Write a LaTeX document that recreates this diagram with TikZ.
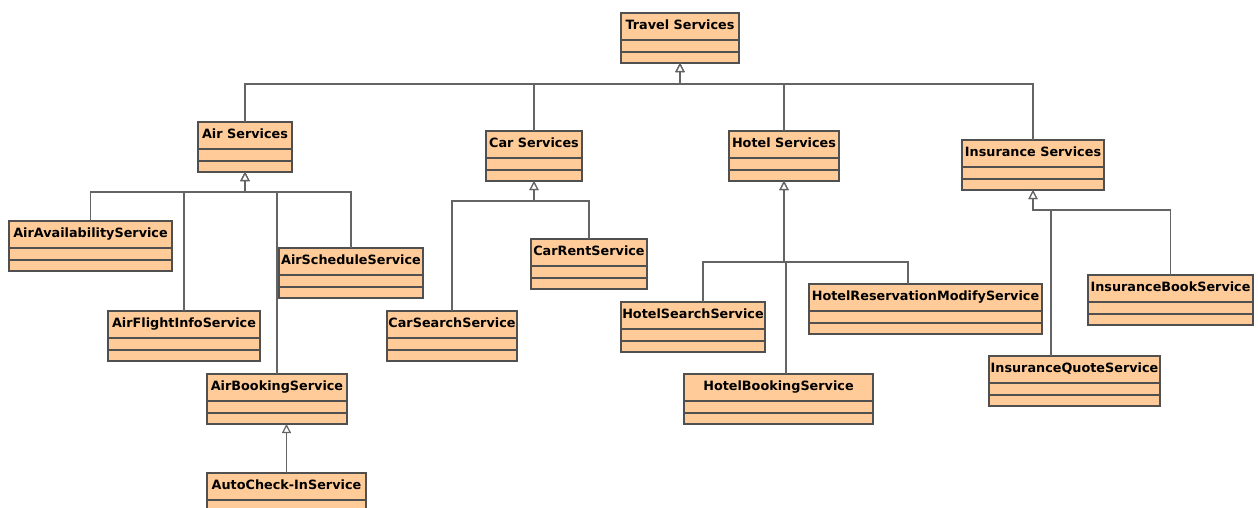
\documentclass[tikz,border=0pt]{standalone}
\usepackage{fontspec}
\setmainfont{DejaVu Sans}
\usetikzlibrary{arrows.meta,calc}
\definecolor{clsfill}{RGB}{255,204,153}
\definecolor{clsdraw}{RGB}{80,80,80}
\definecolor{conn}{RGB}{100,100,100}
\tikzset{
  cls/.style={draw=clsdraw, fill=clsfill, line width=1.3pt, minimum height=50pt, inner sep=0pt, outer sep=0pt},
  lbl/.style={inner sep=0pt, font=\fontsize{12.8}{14}\selectfont\bfseries},
  cmp/.style={draw=clsdraw, line width=1.3pt},
  gen/.style={draw=conn, line width=1.3pt, -{Triangle[length=9pt,width=9pt,fill=white,line width=1.2pt]}}
}
\newcommand{\umlclass}[5]{%
  \node[cls, minimum width=#4pt, anchor=north west] (#1) at (#2,#3) {};
  \node[lbl, anchor=base] (#1-t) at ([yshift=-16pt]#1.north) {#5};
  \draw[cmp] ([yshift=-27pt]#1.north west) -- ([yshift=-27pt]#1.north east);
  \draw[cmp] ([yshift=-39pt]#1.north west) -- ([yshift=-39pt]#1.north east);
}
\begin{document}
\begin{tikzpicture}[x=1pt,y=-1pt]
\useasboundingbox (0,0) rectangle (1258,507);
\clip (0,0) rectangle (1258,507);
\fill[white] (0,0) rectangle (1258,507);
% bars
\coordinate (bT) at (680,84);
\coordinate (bA) at (245,192);
\coordinate (bC) at (534,201);
\coordinate (bH) at (784,262);
\coordinate (bI) at (1033,210);
% classes
\umlclass{travel}{621}{13}{118}{Travel Services}
\umlclass{air}{198}{122}{94}{Air Services}
\umlclass{car}{486}{131}{96}{Car Services}
\umlclass{hotel}{729}{131}{110}{Hotel Services}
\umlclass{ins}{962}{140}{142}{Insurance Services}
\umlclass{aav}{9}{221}{163}{AirAvailabilityService}
\umlclass{asch}{279}{248}{144}{AirScheduleService}
\umlclass{afi}{108}{311}{152}{AirFlightInfoService}
\umlclass{abk}{207}{374}{140}{AirBookingService}
\umlclass{acin}{207}{473}{159}{AutoCheck-InService}
\umlclass{cs}{387}{311}{130}{CarSearchService}
\umlclass{cr}{531}{239}{116}{CarRentService}
\umlclass{hs}{621}{302}{144}{HotelSearchService}
\umlclass{hrm}{809}{284}{233}{HotelReservationModifyService}
\umlclass{hb}{684}{374}{189}{HotelBookingService}
\umlclass{ib}{1088}{275}{165}{InsuranceBookService}
\umlclass{iq}{989}{356}{171}{InsuranceQuoteService}
% travel
\draw[gen] (air.north) |- (bT) -- (travel.south);
\draw[gen] (car.north) |- (bT) -- (travel.south);
\draw[gen] (hotel.north) |- (bT) -- (travel.south);
\draw[gen] (ins.north) |- (bT) -- (travel.south);
% air
\draw[gen] (aav.north) |- (bA) -- (air.south);
\draw[gen] (afi.north) |- (bA) -- (air.south);
\draw[gen] (abk.north) |- (bA) -- (air.south);
\draw[gen] (asch.north) |- (bA) -- (air.south);
\draw[gen] (acin.north) -- (acin.north |- abk.south);
% car
\draw[gen] (cs.north) |- (bC) -- (car.south);
\draw[gen] (cr.north) |- (bC) -- (car.south);
% hotel
\draw[gen] ([xshift=10pt]hs.north) |- (bH) -- (hotel.south);
\draw[gen] ([xshift=7.5pt]hb.north) |- (bH) -- (hotel.south);
\draw[gen] ([xshift=-17.5pt]hrm.north) |- (bH) -- (hotel.south);
% insurance
\draw[gen] ([xshift=-23.5pt]iq.north) |- (bI) -- (ins.south);
\draw[gen] (ib.north) |- (bI) -- (ins.south);
\end{tikzpicture}
\end{document}
